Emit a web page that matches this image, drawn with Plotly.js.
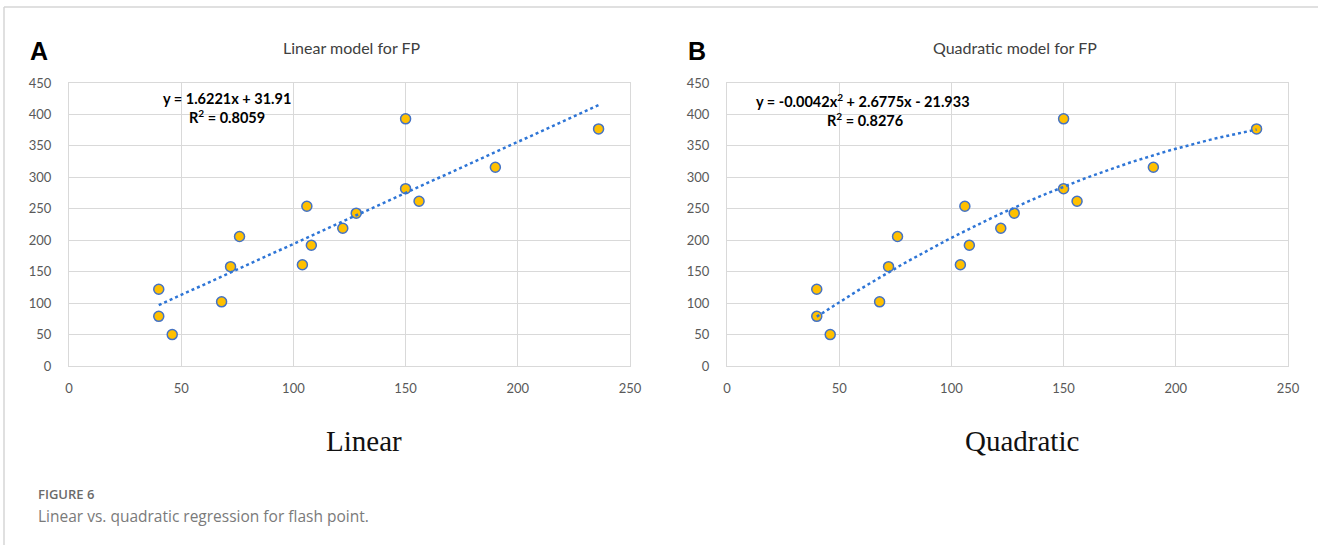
<!DOCTYPE html>
<html>
<head>
<meta charset="utf-8">
<script src="https://cdn.plot.ly/plotly-3.0.1.min.js"></script>
<style>
  html, body { margin: 0; padding: 0; background: #ffffff; }
  #chart { width: 1318px; height: 545px; }
</style>
</head>
<body>
<div id="chart"></div>
<script>
// Data (same points in both panels)
const fpX = [40, 40, 46, 68, 72, 76, 104, 106, 108, 122, 128, 150, 150, 156, 190, 236];
const fpY = [122, 79, 50, 102, 158, 206, 161, 254, 192, 219, 243, 393, 282, 262, 316, 377];

// Fitted models as printed on the chart
const linearCoef = [1.6221, 31.91];               // slope, intercept
const quadCoef = [-0.0042, 2.6775, -21.933];      // a, b, c
const trendRange = [40, 236];

const xTicks = [0, 50, 100, 150, 200, 250];
const yTicks = [0, 50, 100, 150, 200, 250, 300, 350, 400, 450];

const W = 1318, H = 545;
const px = v => v / W;
const py = v => 1 - v / H;

// Trendlines from the stated model equations
const linX = [trendRange[0], trendRange[1]];
const linY = linX.map(x => linearCoef[0] * x + linearCoef[1]);
const quadX = [];
for (let x = trendRange[0]; x <= trendRange[1]; x += 2) quadX.push(x);
if (quadX[quadX.length - 1] !== trendRange[1]) quadX.push(trendRange[1]);
const quadY = quadX.map(x => quadCoef[0] * x * x + quadCoef[1] * x + quadCoef[2]);

const markerStyle = { size: 10, color: '#FFC000', line: { color: '#4472C4', width: 1.5 } };
const trendStyle = { color: '#2E75D6', width: 2.5, dash: 'dot' };

const traces = [
  { x: fpX, y: fpY, type: 'scatter', mode: 'markers', marker: markerStyle, xaxis: 'x', yaxis: 'y', hoverinfo: 'x+y' },
  { x: linX, y: linY, type: 'scatter', mode: 'lines', line: trendStyle, xaxis: 'x', yaxis: 'y', hoverinfo: 'skip' },
  { x: fpX, y: fpY, type: 'scatter', mode: 'markers', marker: markerStyle, xaxis: 'x2', yaxis: 'y2', hoverinfo: 'x+y' },
  { x: quadX, y: quadY, type: 'scatter', mode: 'lines', line: trendStyle, xaxis: 'x2', yaxis: 'y2', hoverinfo: 'skip' }
];

const tickFont = { family: 'Lato, "Open Sans", sans-serif', size: 13, color: '#595959' };
const baseX = {
  range: [0, 250], tickvals: xTicks, ticktext: xTicks.map(String),
  showgrid: true, gridcolor: '#d9d9d9', gridwidth: 1,
  showline: true, linecolor: '#d9d9d9', linewidth: 1, mirror: true,
  zeroline: false, ticks: '', tickfont: tickFont, ticklabelstandoff: 10, fixedrange: true
};
const baseY = {
  range: [0, 450], tickvals: yTicks, ticktext: yTicks.map(String),
  showgrid: true, gridcolor: '#d9d9d9', gridwidth: 1,
  showline: true, linecolor: '#d9d9d9', linewidth: 1, mirror: true,
  zeroline: false, ticks: '', tickfont: tickFont, ticklabelstandoff: 14, fixedrange: true
};

const yDom = [py(366), py(83)];

const titleFont = { family: 'Lato, "Open Sans", sans-serif', size: 16, color: '#404040' };
const eqFont = { family: 'Lato, "Open Sans", sans-serif', size: 14.5, color: '#000000' };

function note(text, xp, yp, font, xanchor) {
  return { text: text, x: px(xp), y: py(yp), xref: 'paper', yref: 'paper', showarrow: false,
           xanchor: xanchor || 'center', yanchor: 'middle', font: font };
}

const panelFont = { family: '"Liberation Sans", Arial, sans-serif', size: 25, color: '#000' };
const serifFont = { family: '"Liberation Serif", "DejaVu Serif", serif', size: 29, color: '#111' };

const annotations = [
  note('<b>A</b>', 39, 51, panelFont),
  note('<b>B</b>', 697, 51, panelFont),
  note('Linear model for FP', 352, 47, titleFont),
  note('Quadratic model for FP', 1015, 47, titleFont),
  note('<b>y = 1.6221x + 31.91</b>', 227, 98, eqFont),
  note('<b>R<sup>2</sup> = 0.8059</b>', 227, 117, eqFont),
  note('<b>y = -0.0042x<sup>2</sup> + 2.6775x - 21.933</b>', 863, 100, eqFont),
  note('<b>R<sup>2</sup> = 0.8276</b>', 865, 119, eqFont),
  note('Linear', 364, 441, serifFont),
  note('Quadratic', 1022, 441, serifFont),
  note('FIGURE 6', 36, 494, { family: '"Open Sans", Lato, sans-serif', size: 13, color: '#6b6b6b', weight: 600 }, 'left'),
  note('Linear vs. quadratic regression for flash point.', 36, 516, { family: '"Open Sans", Lato, sans-serif', size: 15.5, color: '#7a7a7a' }, 'left')
];

const shapes = [
  { type: 'line', xref: 'paper', yref: 'paper', x0: px(4), x1: 1, y0: py(7), y1: py(7), line: { color: '#d6d6d6', width: 1.5 } },
  { type: 'line', xref: 'paper', yref: 'paper', x0: px(4), x1: px(4), y0: py(7), y1: 0, line: { color: '#d6d6d6', width: 1.5 } }
];

const layout = {
  width: W, height: H,
  margin: { l: 0, r: 0, t: 0, b: 0 },
  paper_bgcolor: '#ffffff', plot_bgcolor: '#ffffff',
  showlegend: false,
  xaxis: Object.assign({}, baseX, { domain: [px(69), px(630)], anchor: 'y' }),
  yaxis: Object.assign({}, baseY, { domain: yDom, anchor: 'x' }),
  xaxis2: Object.assign({}, baseX, { domain: [px(727), px(1288)], anchor: 'y2' }),
  yaxis2: Object.assign({}, baseY, { domain: yDom, anchor: 'x2' }),
  annotations: annotations,
  shapes: shapes
};

Plotly.newPlot('chart', traces, layout, { displayModeBar: false, staticPlot: true });
</script>
</body>
</html>
